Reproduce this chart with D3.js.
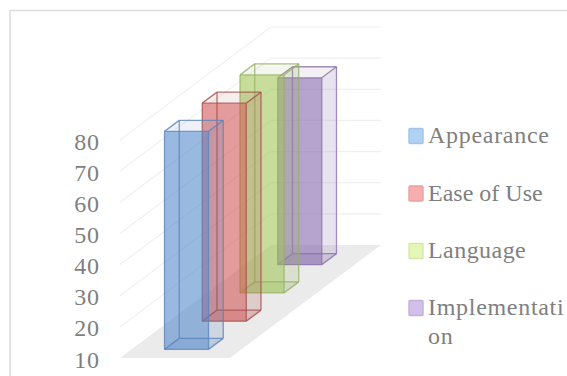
<!DOCTYPE html>
<html>
<head>
<meta charset="utf-8">
<script src="https://cdn.jsdelivr.net/npm/d3@7"></script>
<style>
html,body{margin:0;padding:0;background:#fff;overflow:hidden}
svg{display:block}
text{font-family:"Liberation Serif",serif;fill:#7f7f7f}
</style>
</head>
<body>
<svg id="chart" width="567" height="376"></svg>
<script>
// Series names, their values, and the category axis ticks
const seriesNames = ["Appearance", "Ease of Use", "Language", "Implementation"];
const seriesValues = [80, 80, 80, 70];
const valueTicks = [10, 20, 30, 40, 50, 60, 70, 80];
const barColors = ["#5186ca", "#d05252", "#a0c454", "#8162ab"];
const edgeColors = ["#5b84bb", "#a94f4d", "#96b263", "#8a72a8"];
const legendFills = ["#b0d2f5", "#f8aeae", "#e4f7b6", "#d4bfeb"];
const legendEdges = ["#a2c3e6", "#e9a1a1", "#d5e8a9", "#c3b0d8"];
const legendTracking = [0.7, 0, 0.45, 0.7];

const svg = d3.select("#chart");

// Outer chart frame, open on the right and bottom
svg.append("path")
  .attr("d", d3.line()([[10, 376], [10, 10.5], [567, 10.5]]))
  .attr("fill", "none").attr("stroke", "#dcdcdc").attr("stroke-width", 1.5);

// Oblique projection: across (u), into the chart (w), value (v)
const acrossX = d3.scaleLinear().domain([0, 1]).range([0, 110]);
const depthX = d3.scaleLinear().domain([0, 1]).range([0, 151]);
const depthY = d3.scaleLinear().domain([0, 1]).range([0, 113]);
const valueY = d3.scaleLinear().domain([10, 80]).range([358, 140]);
const originX = 120;
const project = (u, w, v) => [
  originX + acrossX(u) + depthX(w),
  valueY(v) - depthY(w)
];

const depthBand = d3.scaleBand().domain(seriesNames).range([0, 1])
  .paddingInner(0.61).paddingOuter(0.305);
const barSpan = [0.3, 0.7];

const poly = pts => d3.line()(pts) + "Z";

// Floor
svg.append("path")
  .attr("d", poly([project(0, 0, 10), project(1, 0, 10), project(1, 1, 10), project(0, 1, 10)]))
  .attr("fill", "#ebebeb");

// Gridlines running along the side wall and then across the back wall
svg.append("g").selectAll("path")
  .data(valueTicks.slice(1))
  .join("path")
  .attr("d", v => d3.line()([project(0, 0, v), project(0, 1, v), project(1, 1, v)]))
  .attr("fill", "none").attr("stroke", "#f0f0f0").attr("stroke-width", 1.2);

// Value axis
const axis = svg.append("g")
  .attr("transform", "translate(99.5,0)")
  .call(d3.axisLeft(valueY).tickValues(valueTicks).tickSize(0).tickPadding(0));
axis.select(".domain").remove();
axis.selectAll("text")
  .attr("dy", "9px")
  .attr("text-anchor", "end")
  .style("font-size", "24px")
  .style("letter-spacing", "0.6px");

// Bars, drawn back to front so nearer ones overlay farther ones
const order = d3.range(seriesNames.length).reverse();
order.forEach(i => {
  const w0 = depthBand(seriesNames[i]);
  const w1 = w0 + depthBand.bandwidth();
  const [u0, u1] = barSpan;
  const v0 = 10, v1 = seriesValues[i];
  const g = svg.append("g");
  const face = (pts, color, op) => g.append("path").attr("d", poly(pts))
    .attr("fill", color).attr("fill-opacity", op).attr("stroke", "none");

  const A = project(u0, w0, v0), B = project(u1, w0, v0), C = project(u1, w1, v0), D = project(u0, w1, v0);
  const E = project(u0, w0, v1), F = project(u1, w0, v1), G = project(u1, w1, v1), H = project(u0, w1, v1);

  face([A, B, C, D], edgeColors[i], 0.14);
  face([B, C, G, F], edgeColors[i], 0.2);
  face([E, F, G, H], edgeColors[i], 0.1);
  face([A, B, F, E], barColors[i], 0.58);

  const edges = [[A, B], [B, C], [C, D], [D, A], [E, F], [F, G], [G, H], [H, E], [A, E], [B, F], [C, G], [D, H]];
  g.selectAll("line").data(edges).join("line")
    .attr("x1", d => d[0][0]).attr("y1", d => d[0][1])
    .attr("x2", d => d[1][0]).attr("y2", d => d[1][1])
    .attr("stroke", edgeColors[i]).attr("stroke-width", 1.3).attr("stroke-opacity", 0.8);
});

// Legend, with the longest entry wrapped onto a second line
const legendBaselines = [143, 200.5, 258, 315];
const legend = svg.append("g");
seriesNames.forEach((name, i) => {
  const base = legendBaselines[i];
  legend.append("rect")
    .attr("x", 409).attr("y", base - 14.5).attr("width", 14).attr("height", 15)
    .attr("rx", 1)
    .attr("fill", legendFills[i]).attr("stroke", legendEdges[i]).attr("stroke-width", 1.4);
  const lines = name.length > 12 ? [name.slice(0, 12), name.slice(12)] : [name];
  lines.forEach((line, k) => {
    legend.append("text").attr("x", 428).attr("y", base + k * 29)
      .style("font-size", "24px").style("letter-spacing", legendTracking[i] + "px")
      .text(line);
  });
});
</script>
</body>
</html>
